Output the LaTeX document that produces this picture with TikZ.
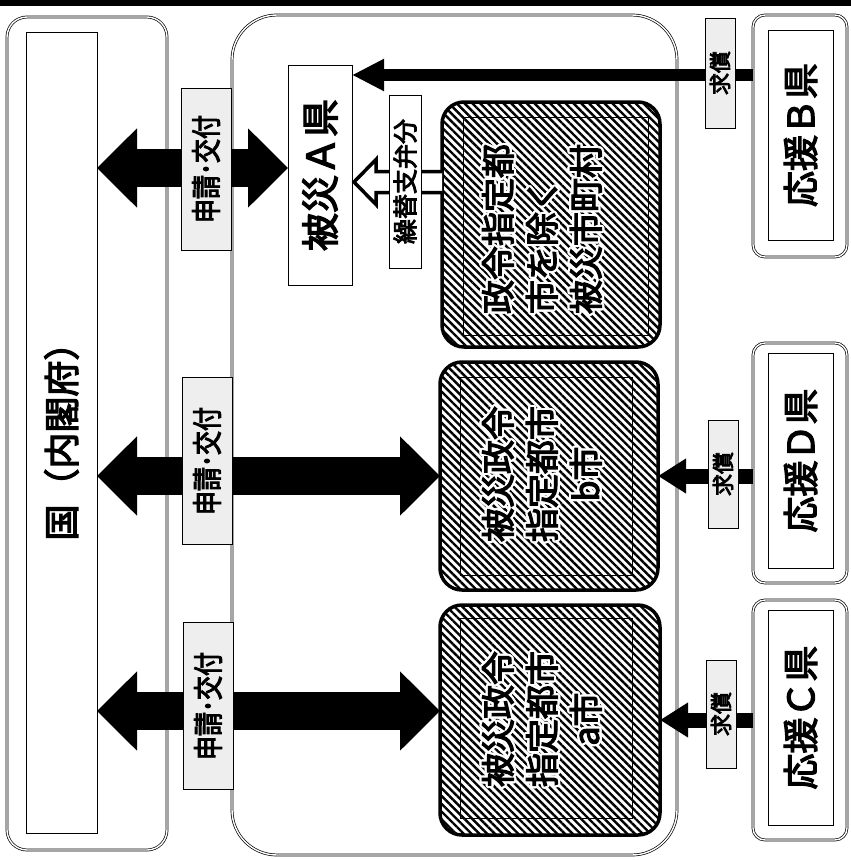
\documentclass[tikz,border=0pt]{standalone}
\usepackage{fontspec}
\newfontfamily\jpfont[FakeBold=3.5]{Noto Sans CJK JP}
\usepackage{contour}
\contourlength{2.2pt}
\usetikzlibrary{arrows.meta,calc,patterns.meta}
\newcommand\halo[1]{\contour{white}{#1}}

\begin{document}
\begin{tikzpicture}[x=1pt,y=-1pt,
  every node/.style={inner sep=0pt,outer sep=0pt},
  dbox/.style={draw,double,double distance=1.4pt,line width=0.7pt,rounded corners=#1},
  tate/.style={rotate=90,font=\jpfont\fontsize{#1}{#1}\selectfont},
  plainbox/.style={draw,line width=0.8pt,fill=white},
  tag/.style={draw,line width=0.7pt,fill=gray!13},
  hatch/.style={pattern={Lines[angle=-45,distance=5.5pt,line width=2.4pt]}},
  citybox/.style={draw,line width=3.5pt,rounded corners=22pt,hatch},
  cityin/.style={draw,line width=0.9pt},
  citytext/.style={rotate=90,font=\jpfont\fontsize{34}{44}\selectfont},
  bigarrow/.style={line width=38pt,{Triangle[length=40pt,width=77pt]}-{Triangle[length=40pt,width=77pt]}},
  kyuarrow/.style={line width=15pt,-{Triangle[length=28pt,width=33pt]}}
]
\useasboundingbox (0,0) rectangle (851,860);
\fill (0,0) rectangle (851,6);

% 国
\node[dbox=20pt,minimum width=160pt,minimum height=833pt] (kunibox) at (87,433.5) {};
\node[plainbox,tate=36,minimum width=801pt,minimum height=71pt] (kuni) at (61.5,432.5) {国（内閣府）};

% 被災A県
\node[dbox=45pt,minimum width=445pt,minimum height=840pt] (hisaibox) at (454.5,435) {};
\node[plainbox,tate=38,minimum width=220pt,minimum height=64pt] (hisaiA) at (320,175) {被災Ａ県};

% 市町村
\node[citybox,minimum width=218pt,minimum height=245pt] (cityc) at (551,224.5) {};
\node[cityin,minimum width=185pt,minimum height=218pt] (citycin) at (555.5,226) {};
\node[citytext,align=left] (citycname) at (543,229) {\halo{政令指定都}\\\halo{市を除く}\\\halo{被災市町村}};

\node[citybox,minimum width=218pt,minimum height=228pt] (cityb) at (549,476) {};
\node[cityin,minimum width=172pt,minimum height=198pt] (citybin) at (546,476) {};
\node[citytext,align=center] (citybname) at (543,474) {\halo{被災政令}\\\halo{指定都市}\\\halo{b市}};

\node[citybox,minimum width=220pt,minimum height=230pt] (citya) at (550,720) {};
\node[cityin,minimum width=172pt,minimum height=200pt] (cityain) at (546,718) {};
\node[citytext,align=center] (cityaname) at (543,719) {\halo{被災政令}\\\halo{指定都市}\\\halo{a市}};

% 応援
\node[dbox=12pt,minimum width=94pt,minimum height=242pt] (ouenBbox) at (800,136) {};
\node[plainbox,tate=36,minimum width=210pt,minimum height=65pt] (ouenB) at (800.5,135) {応援Ｂ県};
\node[dbox=12pt,minimum width=94pt,minimum height=240pt] (ouenDbox) at (800,463) {};
\node[plainbox,tate=36,minimum width=215pt,minimum height=65pt] (ouenD) at (800.5,460.5) {応援Ｄ県};
\node[dbox=12pt,minimum width=94pt,minimum height=240pt] (ouenCbox) at (800,720) {};
\node[plainbox,tate=36,minimum width=215pt,minimum height=65pt] (ouenC) at (800.5,717.5) {応援Ｃ県};

% 矢印 (tate nodes: north = left side, south = right side)
\coordinate (kA) at ($(hisaiA.north)+(0,-7)$);
\coordinate (ka) at ($(citya.west)+(0,-9)$);
\draw[bigarrow] (kuni.south |- kA) -- (kA);
\draw[bigarrow] (kuni.south |- cityb.west) -- (cityb.west);
\draw[bigarrow] (kuni.south |- ka) -- (ka);

\coordinate (kB) at ($(hisaiA.south east)+(0,10)$);
\draw[kyuarrow,line width=12pt,-{Triangle[length=32pt,width=30pt]}] (ouenBbox.west |- kB) -- (kB);
\draw[kyuarrow] (ouenDbox.west |- cityb.east) -- (cityb.east);
\draw[kyuarrow] (ouenCbox.west |- citya.east) -- (citya.east);

\coordinate (kK) at ($(hisaiA.south)+(0,7)$);
\draw[line width=3.5pt,fill=white] let \p1=(kK),\p2=(cityc.west) in
  (\x2,\y1+10.5pt) -- (\x1+24pt,\y1+10.5pt) -- (\x1+24pt,\y1+22.5pt) -- (\x1+2pt,\y1)
  -- (\x1+24pt,\y1-22.5pt) -- (\x1+24pt,\y1-10.5pt) -- (\x2,\y1-10.5pt);

% ラベル
\node[tag,tate=30,minimum width=162pt,minimum height=50pt] (shinsei1) at (206,169) {\scalebox{0.8}[1]{申請･交付}};
\node[tag,tate=30,minimum width=167pt,minimum height=50pt] (shinsei2) at (207,461) {\scalebox{0.8}[1]{申請･交付}};
\node[tag,tate=30,minimum width=167pt,minimum height=50pt] (shinsei3) at (208,706) {\scalebox{0.8}[1]{申請･交付}};
\node[plainbox,tate=25,minimum width=173pt,minimum height=32pt] (kurikae) at (405,181.5) {繰替支弁分};
\node[tag,tate=22,minimum width=110pt,minimum height=30pt] (kyuB) at (720,73) {求償};
\node[tag,tate=22,minimum width=108pt,minimum height=30pt] (kyuD) at (723,474) {求償};
\node[tag,tate=22,minimum width=108pt,minimum height=30pt] (kyuC) at (721,714) {求償};
\end{tikzpicture}
\end{document}
